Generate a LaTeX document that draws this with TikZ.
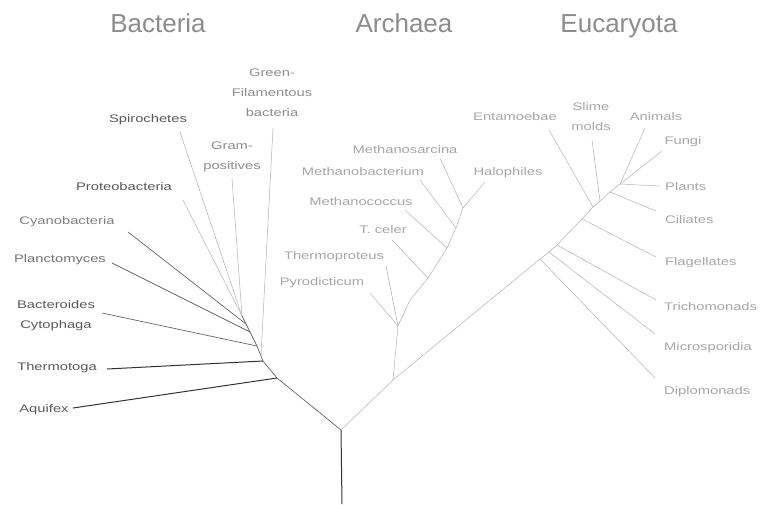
\documentclass[tikz,border=0pt]{standalone}
\usepackage{fontspec}
\setmainfont{Liberation Sans}
\newfontfamily\taxonfont[FakeStretch=1.34]{Liberation Sans}

\begin{document}
\begin{tikzpicture}[x=1pt, y=-1pt,
  realm/.style={font=\fontsize{26}{30}\selectfont, text=black!45, inner sep=0pt, anchor=base},
  taxon/.style={font=\taxonfont\fontsize{11}{20}\selectfont, align=center, inner sep=0pt, text=black!35},
  darktaxon/.style={taxon, text=black!65},
  trunk/.style={black!80, line width=1pt},
  branch/.style={black!60, line width=0.7pt},
  faint/.style={black!30, line width=0.5pt}
]
\useasboundingbox (0,0) rectangle (760,504);

\node[realm] (bacteria) at (158,32) {Bacteria};
\node[realm] (archaea) at (404,32) {Archaea};
\node[realm] (eucaryota) at (619,32) {Eucaryota};

% bacteria
\node[taxon, text=black!45] (green) at (272,93) {Green-\\Filamentous\\bacteria};
\node[darktaxon] (spiro) at (148,120) {Spirochetes};
\node[taxon, text=black!45] (gram) at (232,157) {Gram-\\positives};
\node[darktaxon] (proteo) at (124,187) {Proteobacteria};
\node[taxon, text=black!50] (cyano) at (67,222) {Cyanobacteria};
\node[taxon, text=black!55] (plancto) at (60,260) {Planctomyces};
\node[darktaxon] (bactero) at (56,316) {Bacteroides\\Cytophaga};
\node[darktaxon] (thermotoga) at (57,368) {Thermotoga};
\node[darktaxon] (aquifex) at (44,410) {Aquifex};

% archaea
\node[taxon] (msarcina) at (405,150) {Methanosarcina};
\node[taxon] (mbact) at (363,172) {Methanobacterium};
\node[taxon] (halo) at (508,173) {Halophiles};
\node[taxon] (mcoccus) at (361,202) {Methanococcus};
\node[taxon] (tceler) at (383,230) {T. celer};
\node[taxon] (tproteus) at (334,257) {Thermoproteus};
\node[taxon] (pyro) at (322,283) {Pyrodicticum};

% eucaryota
\node[taxon] (entam) at (515,117) {Entamoebae};
\node[taxon] (slime) at (591,117) {Slime\\molds};
\node[taxon] (animals) at (656,117) {Animals};
\node[taxon] (fungi) at (683,142) {Fungi};
\node[taxon, anchor=west] (plants) at (665,187) {Plants};
\node[taxon, anchor=west] (ciliates) at (665,220) {Ciliates};
\node[taxon, anchor=west] (flag) at (665,263) {Flagellates};
\node[taxon, anchor=west] (tricho) at (664,307) {Trichomonads};
\node[taxon, anchor=west] (micro) at (664,348) {Microsporidia};
\node[taxon, anchor=west] (diplo) at (664,392) {Diplomonads};

\coordinate (root) at (342,504);
\coordinate (fork) at (341,430);
\coordinate (ae) at (393,380);

\coordinate (bA) at (277,378);
\coordinate (bT) at (263,361);
\coordinate (bG) at (261,355);
\coordinate (bB) at (257,346);
\coordinate (bP) at (250,332);
\coordinate (bC) at (246,324);
\coordinate (bX) at (242,316);

\coordinate (aquifex tip) at (73,408);
\coordinate (thermotoga tip) at (107,369);
\coordinate (bactero tip) at (102,313);
\coordinate (plancto tip) at (112,263);
\coordinate (cyano tip) at (128,232);
\coordinate (proteo tip) at (183,200);
\coordinate (spiro tip) at (180,132);
\coordinate (gram tip) at (232,178);
\coordinate (green tip) at (273,128);

\draw[trunk] (root) -- (fork);
\draw[branch] (fork) -- (bA) -- (bT) -- (bB) -- (bP) -- (bC) -- (bX);
\draw[trunk] (bA) -- (aquifex tip);
\draw[trunk] (bT) -- (thermotoga tip);
\draw[branch] (bB) -- (bactero tip);
\draw[branch] (bP) -- (plancto tip);
\draw[branch] (bC) -- (cyano tip);
\draw[faint] (bX) -- (proteo tip);
\draw[faint] (bX) -- (spiro tip);
\draw[faint] (bX) -- (gram tip);
\draw[faint] (bG) -- (green tip);

% archaea branches
\coordinate (a1) at (398,326);
\coordinate (a2) at (410,300);
\coordinate (a3) at (428,278);
\coordinate (a4) at (447,248);
\coordinate (a5) at (456,228);
\coordinate (a6) at (463,208);

\coordinate (pyro tip) at (370,293);
\coordinate (tproteus tip) at (386,266);
\coordinate (tceler tip) at (392,240);
\coordinate (mcoccus tip) at (405,210);
\coordinate (mbact tip) at (420,180);
\coordinate (msarcina tip) at (440,158);
\coordinate (halo tip) at (485,182);

\draw[faint] (fork) -- (ae) -- (a1) -- (a2) -- (a3) -- (a4) -- (a5) -- (a6);
\draw[faint] (a1) -- (pyro tip);
\draw[faint] (a1) -- (tproteus tip);
\draw[faint] (a3) -- (tceler tip);
\draw[faint] (a4) -- (mcoccus tip);
\draw[faint] (a5) -- (mbact tip);
\draw[faint] (a6) -- (msarcina tip);
\draw[faint] (a6) -- (halo tip);

% eucaryota branches
\coordinate (eD) at (540,259);
\coordinate (eM) at (549,252);
\coordinate (eT) at (557,245);
\coordinate (eF) at (582,219);
\coordinate (eE) at (593,207);
\coordinate (eS) at (600,201);
\coordinate (eC) at (610,192);
\coordinate (crown) at (620,184);

\coordinate (diplo tip) at (655,378);
\coordinate (micro tip) at (655,334);
\coordinate (tricho tip) at (656,300);
\coordinate (flag tip) at (656,257);
\coordinate (ciliates tip) at (656,211);
\coordinate (entam tip) at (549,130);
\coordinate (slime tip) at (592,140);
\coordinate (plants tip) at (660,186);
\coordinate (fungi tip) at (662,151);
\coordinate (animals tip) at (645,128);

\draw[faint] (ae) -- (eD) -- (eM) -- (eT) -- (eF) -- (eE) -- (eS) -- (eC) -- (crown);
\draw[faint] (eD) -- (diplo tip);
\draw[faint] (eM) -- (micro tip);
\draw[faint] (eT) -- (tricho tip);
\draw[faint] (eF) -- (flag tip);
\draw[faint] (eC) -- (ciliates tip);
\draw[faint] (eE) -- (entam tip);
\draw[faint] (eS) -- (slime tip);
\draw[faint] (crown) -- (plants tip);
\draw[faint] (crown) -- (fungi tip);
\draw[faint] (crown) -- (animals tip);

\end{tikzpicture}
\end{document}
